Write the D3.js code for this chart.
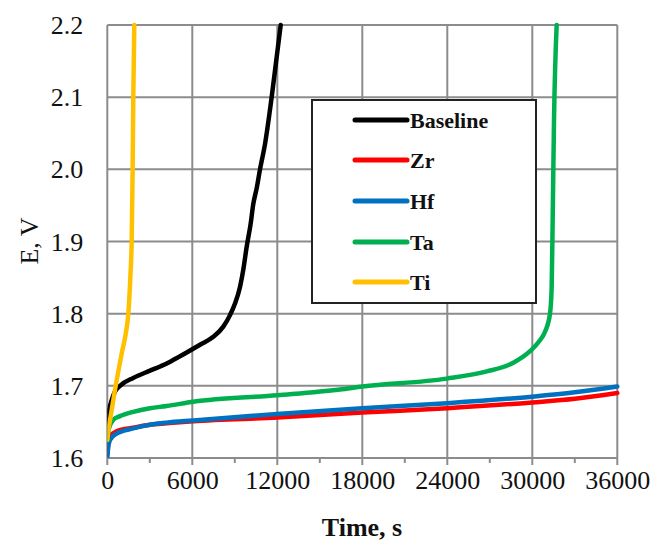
<!DOCTYPE html>
<html><head><meta charset="utf-8">
<script src="https://cdn.jsdelivr.net/npm/d3@7"></script>
<style>body{margin:0;background:#fff}svg{display:block}svg text{font-family:"Liberation Serif","Times New Roman",serif !important}</style>
</head><body>
<svg id="c" width="657" height="545"></svg>
<script>
const seriesNames = ["Baseline","Zr","Hf","Ta","Ti"];
const seriesColors = ["#000000","#ff0000","#0070c0","#00b050","#ffc000"];
const xTicks = [0,6000,12000,18000,24000,30000,36000];
const yTicks = [1.6,1.7,1.8,1.9,2.0,2.1,2.2];
const baseline = [[0,1.63],[60,1.655],[150,1.668],[310,1.680],[543,1.692],[896,1.700],[1835,1.711],[3014,1.721],[4193,1.731],[5132,1.741],[6544,1.757],[7483,1.768],[8188,1.782],[8661,1.798],[9014,1.814],[9367,1.837],[9600,1.861],[9840,1.893],[10122,1.925],[10306,1.952],[10546,1.974],[10779,2.0],[11132,2.035],[11603,2.1],[12240,2.2]];
const zr = [[0,1.605],[40,1.618],[190,1.630],[660,1.637],[1835,1.642],[3014,1.646],[4193,1.648],[6070,1.651],[12000,1.656],[18000,1.663],[24000,1.669],[30000,1.677],[33000,1.682],[36000,1.690]];
const hf = [[0,1.600],[40,1.610],[190,1.625],[660,1.634],[1835,1.641],[3014,1.646],[4193,1.649],[6070,1.652],[12000,1.661],[18000,1.669],[24000,1.676],[30000,1.685],[33000,1.691],[36000,1.699]];
const ta = [[0,1.625],[100,1.640],[424,1.653],[896,1.658],[1835,1.664],[3014,1.669],[4193,1.672],[6070,1.678],[12000,1.687],[16426,1.695],[18000,1.699],[23958,1.710],[26782,1.720],[28660,1.732],[29838,1.748],[30500,1.762],[30897,1.775],[31250,1.800],[31367,1.837],[31438,1.930],[31532,2.068],[31720,2.2]];
const ti = [[0,1.625],[50,1.635],[190,1.652],[380,1.675],[590,1.70],[780,1.72],[1016,1.745],[1300,1.772],[1484,1.80],[1625,1.85],[1720,1.90],[1790,2.0],[1835,2.1],[1906,2.2]];
const allSeries = [baseline, zr, hf, ta, ti];

const FONT = "'Liberation Serif','Times New Roman',serif";
const svg = d3.select("#c");
const L=107.3, R=617.3, T=25, B=458;
const x = d3.scaleLinear().domain([0,36000]).range([L,R]);
const y = d3.scaleLinear().domain([1.6,2.2]).range([B,T]);
const grid = "#8c8c8c";

const g = svg.append("g");
g.selectAll("line.h").data(yTicks).join("line")
  .attr("x1",L).attr("x2",R).attr("y1",d=>y(d)).attr("y2",d=>y(d))
  .attr("stroke",grid).attr("stroke-width",2);
g.selectAll("line.v").data(xTicks).join("line")
  .attr("y1",T).attr("y2",B+7).attr("x1",d=>x(d)).attr("x2",d=>x(d))
  .attr("stroke",grid).attr("stroke-width",2);
g.selectAll("line.m").data(d3.range(3000,36000,6000)).join("line")
  .attr("y1",B).attr("y2",B+5).attr("x1",d=>x(d)).attr("x2",d=>x(d))
  .attr("stroke",grid).attr("stroke-width",2);

const xa = svg.append("g").attr("transform",`translate(0,${B})`)
  .call(d3.axisBottom(x).tickValues(xTicks).tickFormat(d3.format("d")).tickSize(0).tickPadding(31));
xa.attr("font-family",FONT);
xa.select(".domain").remove();
xa.selectAll("text").style("font-family",FONT).attr("font-size",26).attr("fill","#111").attr("dy",0);
const ya = svg.append("g").attr("transform",`translate(${L},0)`)
  .call(d3.axisLeft(y).tickValues(yTicks).tickFormat(d3.format(".1f")).tickSize(0).tickPadding(24));
ya.attr("font-family",FONT);
ya.select(".domain").remove();
ya.selectAll("text").style("font-family",FONT).attr("font-size",26).attr("fill","#111").attr("dy","0.33em");

svg.append("clipPath").attr("id","clip").append("rect").attr("x",L).attr("y",T-3).attr("width",R-L+4).attr("height",B-T+3);
const line = d3.line().x(d=>x(d[0])).y(d=>y(d[1])).curve(d3.curveMonotoneX);
svg.append("g").attr("clip-path","url(#clip)").selectAll("path").data(allSeries).join("path")
  .attr("d",line).attr("fill","none").attr("stroke",(d,i)=>seriesColors[i])
  .attr("stroke-width",4.5).attr("stroke-linejoin","round").attr("stroke-linecap","round");

const lg = svg.append("g");
lg.append("rect").attr("x",312).attr("y",100).attr("width",224).attr("height",203)
  .attr("fill","#fff").attr("stroke","#222").attr("stroke-width",2);
const rowY = [120,160,201,242,282];
seriesNames.forEach((n,i)=>{
  lg.append("line").attr("x1",355).attr("x2",407).attr("y1",rowY[i]).attr("y2",rowY[i])
    .attr("stroke",seriesColors[i]).attr("stroke-width",5).attr("stroke-linecap","round");
  lg.append("text").attr("x",410).attr("y",rowY[i]+8).text(n)
    .style("font-family",FONT).attr("font-weight","bold").attr("font-size",22).attr("fill","#111");
});

svg.append("text").attr("x",362).attr("y",536).attr("text-anchor","middle").text("Time, s")
  .style("font-family",FONT).attr("font-weight","bold").attr("font-size",26).attr("fill","#111");
svg.append("text").attr("transform","translate(38,241) rotate(-90)").attr("text-anchor","middle").text("E, V")
  .style("font-family",FONT).attr("font-size",26).attr("fill","#111");
</script>
</body></html>
